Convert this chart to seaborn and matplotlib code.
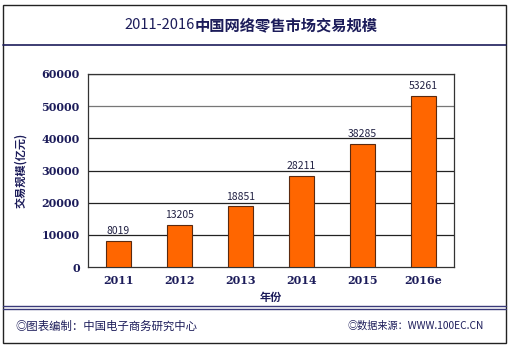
import matplotlib
matplotlib.use("Agg")
import matplotlib.pyplot as plt
import seaborn as sns
import pandas as pd
from matplotlib.patches import Rectangle
from matplotlib.lines import Line2D

years = ["2011", "2012", "2013", "2014", "2015", "2016e"]
values = [8019, 13205, 18851, 28211, 38285, 53261]
yticks = [0, 10000, 20000, 30000, 40000, 50000, 60000]

sns.set_theme(style="white")
plt.rcParams['font.family'] = ['Noto Sans CJK SC', 'DejaVu Sans']

navy = "#1c1c5a"
W, H = 512, 349
fig = plt.figure(figsize=(W / 100, H / 100), dpi=100)
fig.patch.set_facecolor("white")

ax = fig.add_axes([88 / W, 1 - 267 / H, (454 - 88) / W, (267 - 74) / H])
df = pd.DataFrame({"year": years, "value": values})
sns.barplot(data=df, x="year", y="value", color="#ff6600", width=0.4,
            edgecolor="#5a2a10", linewidth=0.8, saturation=1, ax=ax, zorder=3)
ax.set_ylim(0, 60000)
ax.set_yticks(yticks)
ax.set_yticklabels([str(v) for v in yticks], fontsize=8, fontweight="bold",
                   color=navy, family="DejaVu Serif")
ax.set_xticklabels(years, fontsize=8, fontweight="bold", color=navy, family="DejaVu Serif")
ax.tick_params(axis="both", length=0, pad=6)
for v in yticks[1:]:
    ax.axhline(v, color="#222222" if v != 50000 else "#777777", lw=0.9, zorder=1)
for s in ax.spines.values():
    s.set_color("#333333")
    s.set_linewidth(0.9)
ax.set_xlabel("年份", fontsize=8, fontweight="bold", color=navy, labelpad=3)
ax.set_ylabel("交易规模(亿元)", fontsize=8, fontweight="bold", color=navy, labelpad=10)
for i, v in enumerate(values):
    ax.text(i, v + 1500, str(v), ha="center", va="bottom", fontsize=7.5, color="#222244")

# outer frame
fig.patches.append(Rectangle((3 / W, 1 - 343 / H), 503 / W, 338 / H, transform=fig.transFigure,
                             fill=False, edgecolor="#222222", lw=1))
fig.lines.append(Line2D([3 / W, 506 / W], [1 - 45 / H] * 2, transform=fig.transFigure,
                        color=navy, lw=1.2))
for yy in (306, 309):
    fig.lines.append(Line2D([3 / W, 506 / W], [1 - yy / H] * 2, transform=fig.transFigure,
                            color="#3a3a7a", lw=1.0))

# title
fig.text(195 / W, 1 - 25 / H, "2011-2016", ha="right", va="center", fontsize=10.5, color=navy)
fig.text(195 / W, 1 - 25 / H, "中国网络零售市场交易规模", ha="left", va="center",
         fontsize=11, fontweight="bold", color=navy)

# footer
fig.text(15 / W, 1 - 326 / H, "◎图表编制：中国电子商务研究中心", ha="left", va="center",
         fontsize=8.2, color=navy)
fig.text(348 / W, 1 - 326 / H, "◎数据来源：WWW.100EC.CN", ha="left", va="center",
         fontsize=7.3, color=navy)

fig.savefig("out.png", dpi=100, facecolor="white")
